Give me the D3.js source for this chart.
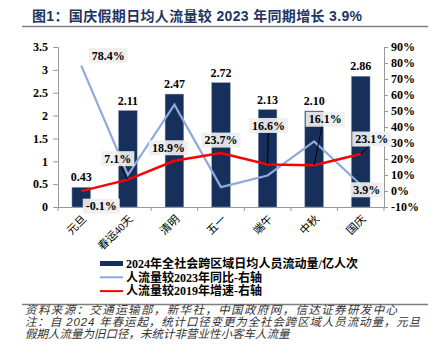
<!DOCTYPE html>
<html><head><meta charset="utf-8">
<script src="https://cdn.jsdelivr.net/npm/d3@7"></script>
<style>
html,body{margin:0;padding:0;background:#fff;}
svg{display:block;}
</style></head>
<body>
<svg id="chart" width="438" height="362"></svg>
<script>
const categories = ["元旦","春运40天","清明","五一","端午","中秋","国庆"];
const flowValues = [0.43, 2.11, 2.47, 2.72, 2.13, 2.10, 2.86];
const yoy2023 = [78.4, 10.0, 54.0, 2.4, 9.7, 31.0, 3.9];
const vs2019 = [-0.1, 7.1, 18.9, 23.7, 16.6, 16.1, 23.1];
const leftTicks = [0, 0.5, 1, 1.5, 2, 2.5, 3, 3.5];
const rightTicks = [-10, 0, 10, 20, 30, 40, 50, 60, 70, 80, 90];
const legendLabels = ["2024年全社会跨区域日均人员流动量/亿人次","人流量较2023年同比-右轴","人流量较2019年增速-右轴"];
const title = "图1：国庆假期日均人流量较 2023 年同期增长 3.9%";
const notes = ["资料来源：交通运输部，新华社，中国政府网，信达证券研发中心",
  "注：自 2024 年春运起，统计口径变更为全社会跨区域人员流动量，元旦",
  "假期人流量为旧口径，未统计非营业性小客车人流量"];
// label annotations
const yoyLabels = [{i:0, dx:27, dy:-10}, {i:6, dx:6, dy:5}];
const vsLabels = [{i:0, dx:20, dy:15}, {i:1, dx:-10, dy:-21, lead:true}, {i:2, dx:-6, dy:-13},
  {i:3, dx:0, dy:-13}, {i:4, dx:1, dy:-39, lead:true}, {i:5, dx:11, dy:-46, lead:true}, {i:6, dx:11, dy:-15, lead:true}];

const svg = d3.select("#chart");
const serif = "'Liberation Serif','Times New Roman','Noto Sans CJK SC',serif";
const cjk = "'Liberation Serif','Noto Sans CJK SC',sans-serif";
const navy = "#17305b";
const blue = "#8eaadb";
const red = "#ff0000";

// Title
svg.append("text").attr("x", 32).attr("y", 21).attr("font-family", "'Liberation Sans','Noto Sans CJK SC',sans-serif")
  .attr("font-size", 14).attr("font-weight", "bold").attr("fill", "#1f3562")
  .attr("textLength", 330).attr("lengthAdjust", "spacing").text(title);
svg.append("line").attr("x1", 22).attr("x2", 428).attr("y1", 26.5).attr("y2", 26.5).attr("stroke", "#7f7f7f").attr("stroke-width", 1.5);

const x0 = 58, x1 = 384, yTop = 47, yBot = 207;
const x = d3.scaleBand().domain(categories).range([x0, x1]).paddingInner(0.6).paddingOuter(0.3);
const xc = d3.scalePoint().domain(categories).range([x0, x1]).padding(0.5);
const yL = d3.scaleLinear().domain([0, 3.5]).range([yBot, yTop]);
const yR = d3.scaleLinear().domain([-10, 90]).range([yBot, yTop]);

// Axes
const axL = svg.append("g").attr("transform", `translate(${x0},0)`)
  .call(d3.axisLeft(yL).tickValues(leftTicks).tickSize(5).tickPadding(5).tickFormat(d3.format("")));
const axR = svg.append("g").attr("transform", `translate(${x1},0)`)
  .call(d3.axisRight(yR).tickValues(rightTicks).tickSize(4).tickPadding(3).tickFormat(d => d + "%"));
[axL, axR].forEach(g => {
  g.select(".domain").attr("stroke", "#999");
  g.selectAll(".tick line").attr("stroke", "#999");
  g.selectAll("text").attr("font-family", serif).attr("font-size", 12).attr("font-weight", "bold").attr("fill", "#000");
});
// bottom axis
const bottom = svg.append("g");
bottom.append("line").attr("x1", x0).attr("x2", x1).attr("y1", yBot + 0.5).attr("y2", yBot + 0.5).attr("stroke", "#999");
const step = (x1 - x0) / categories.length;
d3.range(categories.length + 1).forEach(k => {
  bottom.append("line").attr("x1", x0 + k * step).attr("x2", x0 + k * step).attr("y1", yBot).attr("y2", yBot + 4).attr("stroke", "#999");
});
categories.forEach(c => {
  const cx = xc(c) + 3, cy = yBot + 10;
  bottom.append("text").attr("transform", `translate(${cx},${cy}) rotate(-45)`)
    .attr("text-anchor", "end").attr("dy", "0.35em").attr("font-family", cjk)
    .attr("font-size", 11).attr("fill", "#000").text(c);
});

// Bars
svg.append("g").selectAll("rect").data(flowValues).join("rect")
  .attr("x", (d, i) => x(categories[i])).attr("width", x.bandwidth())
  .attr("y", d => yL(d)).attr("height", d => yL(0) - yL(d))
  .attr("fill", navy).attr("stroke", "#8a97b0").attr("stroke-width", 0.5);
svg.append("g").selectAll("text").data(flowValues).join("text")
  .attr("x", (d, i) => xc(categories[i])).attr("y", d => yL(d) - 6)
  .attr("text-anchor", "middle").attr("font-family", serif).attr("font-size", 12).attr("font-weight", "bold")
  .text(d => d.toFixed(2));

// Lines
const line = d3.line().x((d, i) => xc(categories[i])).y(d => yR(d));
svg.append("path").datum(yoy2023).attr("d", line).attr("fill", "none").attr("stroke", blue).attr("stroke-width", 2.2);
svg.append("path").datum(vs2019).attr("d", line).attr("fill", "none").attr("stroke", red).attr("stroke-width", 2.5);

// Data labels with boxes
function addLabel(val, i, dx, dy, lead) {
  const px = xc(categories[i]), py = yR(val);
  const lx = px + dx, ly = py + dy;
  const g = svg.append("g");
  const t = g.append("text").attr("x", lx).attr("y", ly).attr("text-anchor", "middle").attr("dy", "0.35em")
    .attr("font-family", serif).attr("font-size", 12).attr("font-weight", "bold").attr("fill", "#000")
    .text(val.toFixed(1) + "%");
  const bb = t.node().getBBox();
  g.insert("rect", "text").attr("x", bb.x - 3).attr("y", ly - 7.5).attr("width", bb.width + 6).attr("height", 15)
    .attr("fill", "#efefef").attr("opacity", 0.92);
  if (lead) {
    const ey = dy < 0 ? ly + 7.5 : ly - 7.5;
    svg.append("line").attr("x1", lx - dx * 0.3).attr("y1", ey).attr("x2", px).attr("y2", py)
      .attr("stroke", "#000").attr("stroke-width", 1);
  }
}
yoyLabels.forEach(l => addLabel(yoy2023[l.i], l.i, l.dx, l.dy, l.lead));
vsLabels.forEach(l => addLabel(vs2019[l.i], l.i, l.dx, l.dy, l.lead));

// Legend
const lg = svg.append("g");
const ly0 = 263.5, lgap = 13.8;
lg.append("rect").attr("x", 100).attr("y", ly0 - 2.5).attr("width", 23).attr("height", 5).attr("fill", navy);
lg.append("line").attr("x1", 100).attr("x2", 123).attr("y1", ly0 + lgap).attr("y2", ly0 + lgap).attr("stroke", blue).attr("stroke-width", 2);
lg.append("line").attr("x1", 100).attr("x2", 123).attr("y1", ly0 + 2 * lgap).attr("y2", ly0 + 2 * lgap).attr("stroke", red).attr("stroke-width", 2);
const legendLens = [232, 0, 0];
legendLabels.forEach((t, k) => {
  const tx = lg.append("text").attr("x", 126).attr("y", ly0 + k * lgap).attr("dy", "0.35em")
    .attr("font-family", cjk).attr("font-size", 12).attr("font-weight", "bold").attr("fill", "#000").text(t);
  if (legendLens[k]) tx.attr("textLength", legendLens[k]).attr("lengthAdjust", "spacingAndGlyphs");
});

// Source / notes
svg.append("line").attr("x1", 22).attr("x2", 428).attr("y1", 304.5).attr("y2", 304.5).attr("stroke", "#7f7f7f").attr("stroke-width", 1.5);
const noteLens = [372, 395, 0];
notes.forEach((t, k) => {
  const tx = svg.append("text").attr("x", 25).attr("y", 310 + k * 12).attr("dy", "0.35em")
    .attr("font-family", "'Liberation Sans','Noto Sans CJK SC',sans-serif").attr("font-size", 11.5).attr("font-style", "italic")
    .attr("fill", "#333").text(t);
  if (noteLens[k]) tx.attr("textLength", noteLens[k]).attr("lengthAdjust", "spacing");
});
</script>
</body></html>
